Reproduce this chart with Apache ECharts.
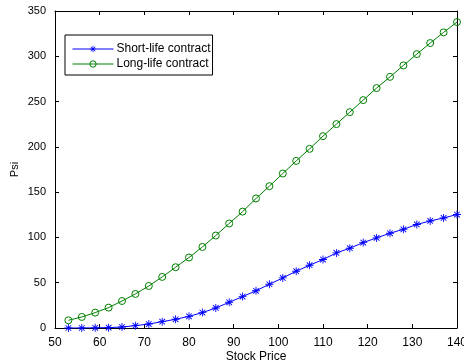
<!DOCTYPE html>
<html><head><meta charset="utf-8">
<script src="https://cdn.jsdelivr.net/npm/echarts@6/dist/echarts.min.js"></script>
<style>html,body{margin:0;padding:0;background:#fff}#c{width:464px;height:364px}</style>
</head><body><div id="c"></div>
<script>
const stockPrice = [53,56,59,62,65,68,71,74,77,80,83,86,89,92,95,98,101,104,107,110,113,116,119,122,125,128,131,134,137,140];
const shortLife = [0,0,0.2,0.4,1.1,2.6,4.4,7.0,9.6,12.9,17.0,22.1,28.4,34.7,41.1,48.3,55.3,62.7,69.3,75.6,82.9,88.1,94.3,99.5,104.6,109.0,114.3,118.2,121.5,125.3];
const longLife = [8.5,12.2,17.0,22.5,29.8,37.6,46.4,56.4,67.1,77.8,89.5,102.1,115.4,128.5,143.0,156.6,170.6,184.5,197.8,211.8,225.1,238.3,251.6,264.9,277.3,289.9,302.4,314.6,326.4,337.8];
const xTicks = [50,60,70,80,90,100,110,120,130,140];
const yTicks = [0,50,100,150,200,250,300,350];

const star = 'path://M-0.55,-5L0.55,-5L0.55,5L-0.55,5Z M-5,-0.55L5,-0.55L5,0.55L-5,0.55Z M-3.9,-3.1L-3.1,-3.9L3.9,3.1L3.1,3.9Z M3.1,-3.9L3.9,-3.1L-3.1,3.9L-3.9,3.1Z';
const font = 'Liberation Sans, Arial, sans-serif';
const axisCommon = {
  axisLine:{show:true,onZero:false,lineStyle:{color:'#000',width:1}},
  axisTick:{show:true,inside:true,length:4,lineStyle:{color:'#000'}},
  splitLine:{show:false},
};
const chart = echarts.init(document.getElementById('c'));
chart.setOption({
  animation:false,
  backgroundColor:'#fff',
  grid:{left:55,right:7,top:11,bottom:36,containLabel:false,outerBoundsMode:'none'},
  legend:{
    orient:'vertical',left:65,top:35,
    backgroundColor:'#fff',borderColor:'#000',borderWidth:1,borderRadius:0,
    padding:[8,2,5,7],itemGap:3,itemWidth:41,itemHeight:8,
    lineStyle:{width:1},itemStyle:{borderWidth:1},
    textStyle:{fontFamily:font,fontSize:12,color:'#000',padding:[0,0,0,-2]},
    data:['Short-life contract','Long-life contract']
  },
  xAxis:[
    Object.assign({type:'value',min:50,max:140,interval:10,position:'bottom',
      name:'Stock Price',nameLocation:'middle',nameGap:23,nameMoveOverlap:false,
      nameTextStyle:{fontFamily:font,fontSize:12,color:'#000'},
      axisLabel:{fontFamily:font,fontSize:12,color:'#000',margin:9}},axisCommon),
    Object.assign({type:'value',min:50,max:140,interval:10,position:'top',axisLabel:{show:false}},axisCommon)
  ],
  yAxis:[
    Object.assign({type:'value',min:0,max:350,interval:50,position:'left',
      name:'Psi',nameLocation:'middle',nameGap:35,nameRotate:90,nameMoveOverlap:false,
      nameTextStyle:{fontFamily:font,fontSize:11,color:'#000'},
      axisLabel:{fontFamily:font,fontSize:11,color:'#000',margin:9}},axisCommon),
    Object.assign({type:'value',min:0,max:350,interval:50,position:'right',axisLabel:{show:false}},axisCommon)
  ],
  series:[
    {name:'Short-life contract',type:'line',xAxisIndex:0,yAxisIndex:0,
     data:stockPrice.map((x,i)=>[x,shortLife[i]]),
     symbol:star,symbolSize:8,showAllSymbol:true,
     lineStyle:{color:'#0000ff',width:1},itemStyle:{color:'#0000ff'}},
    {name:'Long-life contract',type:'line',xAxisIndex:0,yAxisIndex:0,
     data:stockPrice.map((x,i)=>[x,longLife[i]]),
     symbol:'circle',symbolSize:7,showAllSymbol:true,
     lineStyle:{color:'#008000',width:1},itemStyle:{color:'rgba(0,0,0,0)',borderColor:'#008000',borderWidth:1}}
  ]
});
</script></body></html>
